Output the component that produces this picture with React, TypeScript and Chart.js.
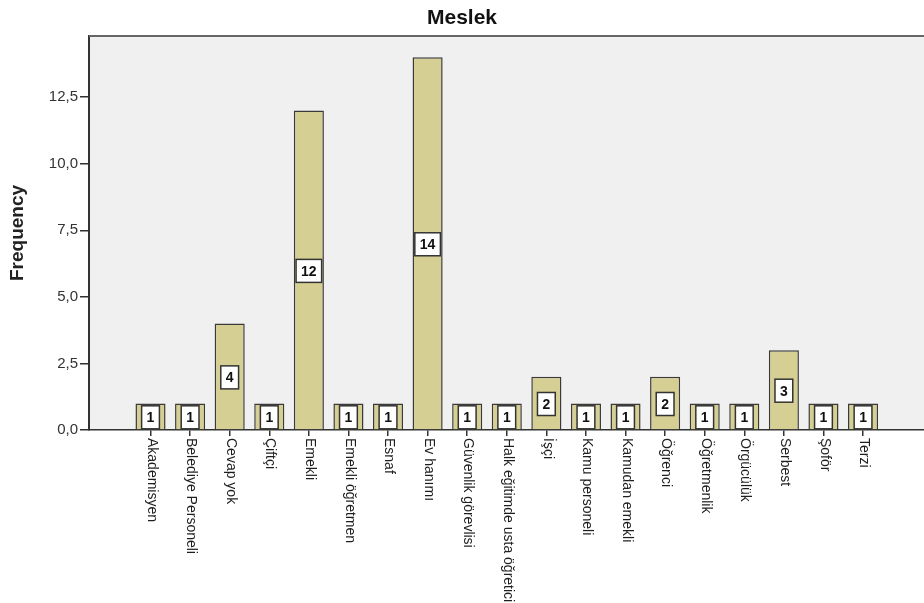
import React, { useEffect, useRef } from 'react';
import { Chart, registerables } from 'chart.js';

Chart.register(...registerables);

const categories = [
  'Akademisyen',
  'Belediye Personeli',
  'Cevap yok',
  'Çiftçi',
  'Emekli',
  'Emekli öğretmen',
  'Esnaf',
  'Ev hanımı',
  'Güvenlik görevlisi',
  'Halk eğitimde usta öğretici',
  'İşçi',
  'Kamu personeli',
  'Kamudan emekli',
  'Öğrenci',
  'Öğretmenlik',
  'Örgücülük',
  'Serbest',
  'Şoför',
  'Terzi',
];

const frequencies = [1, 1, 4, 1, 12, 1, 1, 14, 1, 1, 2, 1, 1, 2, 1, 1, 3, 1, 1];

const yTickValues = [0, 2.5, 5, 7.5, 10, 12.5];

const chartTitle = 'Meslek';
const yAxisTitle = 'Frequency';

const FONT = "'Liberation Sans', Arial, Helvetica, sans-serif";

export default function App() {
  const canvasRef = useRef<HTMLCanvasElement | null>(null);

  useEffect(() => {
    const canvas = canvasRef.current;
    if (!canvas) return;

    const framePlugin = {
      id: 'spssFrame',
      beforeDraw(chart: any) {
        const { ctx, chartArea: a } = chart;
        ctx.save();
        ctx.fillStyle = '#f0f0f0';
        ctx.fillRect(a.left, a.top, a.right - a.left, a.bottom - a.top);
        ctx.restore();
      },
      afterDraw(chart: any) {
        const { ctx, chartArea: a } = chart;
        ctx.save();
        ctx.strokeStyle = '#666666';
        ctx.lineWidth = 2;
        ctx.beginPath();
        ctx.moveTo(a.left, a.top);
        ctx.lineTo(a.right, a.top);
        ctx.stroke();

        // rotated category labels (reading top to bottom)
        const xs = chart.scales.x;
        ctx.fillStyle = '#1e1e1e';
        ctx.font = `14px ${FONT}`;
        ctx.textAlign = 'left';
        ctx.textBaseline = 'middle';
        categories.forEach((label, i) => {
          const px = xs.getPixelForValue(i);
          ctx.save();
          ctx.translate(px + 1, a.bottom + 8);
          ctx.rotate(Math.PI / 2);
          ctx.fillText(label, 0, 0);
          ctx.restore();
        });
        ctx.restore();
      },
      afterDatasetsDraw(chart: any) {
        const { ctx } = chart;
        const meta = chart.getDatasetMeta(0);
        ctx.save();
        ctx.font = `bold 14px ${FONT}`;
        ctx.textAlign = 'center';
        ctx.textBaseline = 'middle';
        meta.data.forEach((el: any, i: number) => {
          const text = String(frequencies[i]);
          const cx = el.x;
          const cy = (el.y + el.base) / 2 + 1;
          const w = ctx.measureText(text).width + 10;
          const h = 23;
          ctx.fillStyle = '#ffffff';
          ctx.fillRect(cx - w / 2, cy - h / 2, w, h);
          ctx.strokeStyle = '#333333';
          ctx.lineWidth = 1.5;
          ctx.strokeRect(cx - w / 2, cy - h / 2, w, h);
          ctx.fillStyle = '#111111';
          ctx.fillText(text, cx, cy + 1);
        });
        ctx.restore();
      },
    };

    const chart = new Chart(canvas, {
      type: 'bar',
      data: {
        datasets: [
          {
            data: frequencies.map((v, i) => ({ x: i, y: v })),
            backgroundColor: '#d6cf93',
            borderColor: '#3a3a3a',
            borderWidth: 1.5,
            barPercentage: 0.76,
            categoryPercentage: 1,
          },
        ],
      },
      options: {
        animation: false,
        responsive: true,
        maintainAspectRatio: false,
        events: [],
        layout: { padding: 0, autoPadding: false },
        plugins: {
          legend: { display: false },
          tooltip: { enabled: false },
          title: {
            display: true,
            text: chartTitle,
            color: '#111111',
            font: { family: FONT, size: 21, weight: 'bold' },
            padding: { top: 6, bottom: 4.8 },
          },
        },
        scales: {
          x: {
            type: 'linear',
            position: 'bottom',
            offset: false,
            min: -1.554,
            max: 19.54,
            afterBuildTicks: (s: any) => {
              s.ticks = categories.map((_, i) => ({ value: i }));
            },
            afterFit: (s: any) => {
              s.height = 173;
            },
            ticks: { display: false },
            grid: {
              display: true,
              offset: false,
              drawOnChartArea: false,
              drawTicks: true,
              tickLength: 6,
              color: '#333333',
              lineWidth: 1.5,
            },
            border: { display: true, color: '#333333', width: 1.5 },
          },
          y: {
            type: 'linear',
            position: 'left',
            min: 0,
            max: 14.8,
            afterBuildTicks: (s: any) => {
              s.ticks = yTickValues.map((v) => ({ value: v }));
            },
            afterFit: (s: any) => {
              s.width = 89;
            },
            ticks: {
              color: '#333333',
              font: { family: FONT, size: 15 },
              padding: 2,
              callback: (v: any) => Number(v).toFixed(1).replace('.', ','),
            },
            grid: {
              display: true,
              drawOnChartArea: false,
              drawTicks: true,
              tickLength: 9,
              color: '#333333',
              lineWidth: 1.5,
            },
            border: { display: true, color: '#333333', width: 2 },
            title: {
              display: true,
              text: yAxisTitle,
              color: '#222222',
              font: { family: FONT, size: 19, weight: 'bold' },
              padding: { top: 6, bottom: 0 },
            },
          },
        },
      },
      plugins: [framePlugin],
    });

    return () => {
      chart.destroy();
    };
  }, []);

  return (
    <div style={{ position: 'absolute', left: 0, top: 0, width: 924, height: 603, background: '#ffffff' }}>
      <canvas ref={canvasRef} />
    </div>
  );
}
